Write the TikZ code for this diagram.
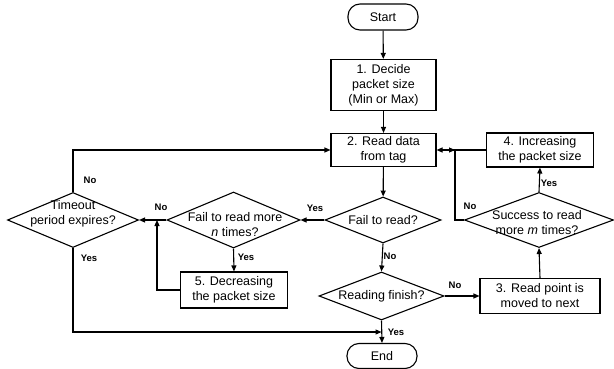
\documentclass[tikz,border=0pt]{standalone}
\usepackage{fontspec}
\setmainfont{Liberation Sans}
\usetikzlibrary{arrows.meta,shapes.geometric}
\begin{document}
\begin{tikzpicture}[x=1pt,y=-1pt,
  line width=1.1pt,
  arr/.style={-{Triangle[length=6pt,width=5pt]}},
  term/.style={draw,rounded corners=12pt,minimum width=70pt,minimum height=26pt,inner sep=0pt,font=\fontsize{12.5}{15}\selectfont},
  proc/.style={draw,align=center,inner sep=0pt,font=\fontsize{12.5}{15}\selectfont},
  dec/.style={draw,diamond,inner sep=0pt},
  dtext/.style={align=center,inner sep=0pt,font=\fontsize{12.5}{15}\selectfont},
  lbl/.style={font=\bfseries\fontsize{9.5}{10}\selectfont,inner sep=0pt}]
\useasboundingbox (0,0) rectangle (614,369);
% nodes
\node[term] (start) at (383,17) {Start};
\node[proc,minimum width=105pt,minimum height=51pt] (b1) at (383.5,85) {1. Decide\\packet size\\(Min or Max)};
\node[proc,minimum width=105pt,minimum height=33pt] (b2) at (383.5,150) {2. Read data\\from tag};
\node[proc,minimum width=107pt,minimum height=34pt] (b4) at (540,150) {4. Increasing\\the packet size};
\node[dec,minimum width=149pt,minimum height=55pt] (succ) at (539,220) {};
\node[dtext] (succT) at (537,223) {Success to read\\more \textit{m} times?};
\node[proc,minimum width=120pt,minimum height=35pt] (b3) at (540,296) {3. Read point is\\moved to next};
\node[dec,minimum width=116pt,minimum height=46pt] (fail) at (383,220) {};
\node[dtext] (failT) at (383,220) {Fail to read?};
\node[dec,minimum width=125pt,minimum height=48pt] (fin) at (381.5,296) {};
\node[dtext] (finT) at (381.5,296) {Reading finish?};
\node[term,minimum height=25pt] (end) at (382,356) {End};
\node[dec,minimum width=131pt,minimum height=55pt] (tout) at (73,220) {};
\node[dtext] (toutT) at (73,214) {Timeout\\period expires?};
\node[dec,minimum width=133pt,minimum height=56pt] (failn) at (233.5,220) {};
\node[dtext] (failnT) at (235,225) {Fail to read more\\\textit{n} times?};
\node[proc,minimum width=107pt,minimum height=36pt] (b5) at (234,290) {5. Decreasing\\the packet size};
% junctions
\coordinate (j5) at (157,220);
\coordinate (jn) at (455,150);
\coordinate (jend) at (381.5,332);
% connectors
\draw[arr] (start) -- (b1);
\draw[arr] (b1) -- (b2);
\draw[arr] (b2) -- (fail);
\draw[arr] (fail.west) -- (failn.east);
\draw[arr] (failn.west) -- (tout.east);
\draw[arr] (failn.south) -- (b5.north);
\draw[arr] (b5.west) -| (j5);
\draw[arr] (tout.north) |- (b2.west);
\draw[arr] (tout.south) |- (jend);
\draw[arr] (fail.south) -- (fin.north);
\draw[arr] (fin.east) -- (b3.west);
\draw[arr] (fin.south) -- (end.north);
\draw[arr] (b3.north) -- (succ.south);
\draw[arr] (succ.north) -- (b4.south);
\draw[arr] (succ.west) -- ++(-9,0) |- (jn);
\draw[arr] (b4.west) -- (b2.east);
% labels
\node[lbl] (l1) at (315,208) {Yes};
\node[lbl] (l2) at (161,207) {No};
\node[lbl] (l3) at (246,257) {Yes};
\node[lbl] (l4) at (90,180) {No};
\node[lbl] (l5) at (89,258) {Yes};
\node[lbl] (l6) at (390,256) {No};
\node[lbl] (l7) at (455,285) {No};
\node[lbl] (l8) at (396,332) {Yes};
\node[lbl] (l9) at (549,183) {Yes};
\node[lbl] (l10) at (470,206) {No};
\end{tikzpicture}
\end{document}
